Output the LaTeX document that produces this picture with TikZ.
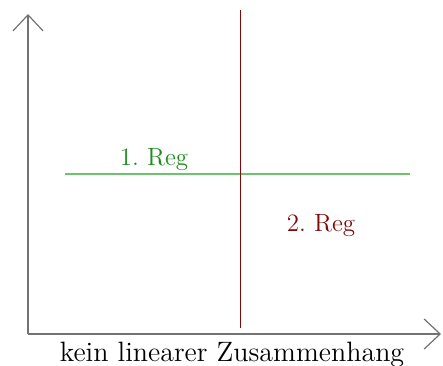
\documentclass[tikz,border=0pt]{standalone}
\usepackage{tikz}
\usetikzlibrary{arrows.meta,positioning}
\definecolor{regone}{RGB}{30,140,30}
\definecolor{regoneline}{RGB}{110,195,110}
\definecolor{regtwo}{RGB}{128,10,10}
\frenchspacing
\tikzset{
  axis/.style={-{Straight Barb[length=8pt,width=15pt]}, gray!90!black, line width=0.6pt},
  split/.style={regtwo, line width=0.5pt},
  regline/.style={regoneline, line width=0.6pt},
  reglabel/.style={font=\fontsize{12.5}{15}\selectfont, inner sep=0pt},
  axislabel/.style={font=\fontsize{14}{17}\selectfont, inner sep=0pt}
}
\begin{document}
\begin{tikzpicture}[x=0.5pt,y=0.5pt]
  \useasboundingbox (0,0) rectangle (443,365);
  % axes
  \coordinate (o) at (28,31);
  \coordinate (ytop) at (28,351);
  \coordinate (xend) at (441,31);
  \draw[axis] (o) -- (ytop);
  \draw[axis] (o) -- (xend);
  % regions
  \coordinate (vtop) at (240,355);
  \coordinate (vbot) at (240,37);
  \coordinate (hleft) at (65,191);
  \coordinate (hright) at (410,191);
  \draw[regline] (hleft) -- (hright);
  \draw[split] (vbot) -- (vtop);
  \node[reglabel, text=regone] (reg1) at (154,205) {1. Reg};
  \node[reglabel, text=regtwo] (reg2) at (321,139) {2. Reg};
  \node[axislabel] (xlabel) at (232,10) {kein linearer Zusammenhang};
\end{tikzpicture}
\end{document}
